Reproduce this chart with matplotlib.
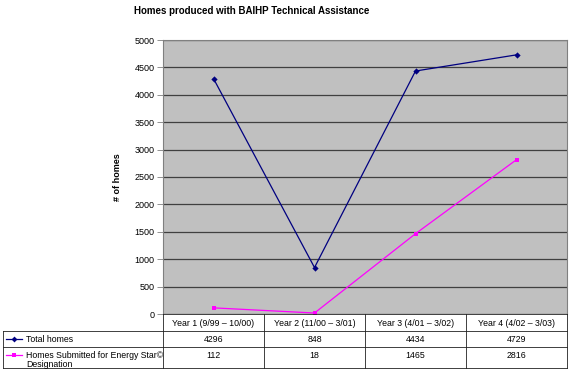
import matplotlib.pyplot as plt
import numpy as np

plt.rcParams['font.family'] = ['Liberation Sans', 'DejaVu Sans']

periods = ['Year 1 (9/99 – 10/00)', 'Year 2 (11/00 – 3/01)',
           'Year 3 (4/01 – 3/02)', 'Year 4 (4/02 – 3/03)']
total_homes = [4296, 848, 4434, 4729]
energy_star = [112, 18, 1465, 2816]
series_names = ['Total homes', 'Homes Submitted for Energy Star©\nDesignation']
series_colors = ['#000080', '#FF00FF']
series_markers = ['D', 's']

W, H = 569, 372
fig = plt.figure(figsize=(W / 100, H / 100), dpi=100)

# plot area in pixel coords
x0, x1, ytop, ybot = 163, 567, 40, 314
ax = fig.add_axes([x0 / W, 1 - ybot / H, (x1 - x0) / W, (ybot - ytop) / H])
ax.set_facecolor('#C0C0C0')
x = np.arange(len(periods))
for vals, c, m in zip([total_homes, energy_star], series_colors, series_markers):
    ax.plot(x, vals, color=c, marker=m, markersize=3.2 if m == 'D' else 3.5,
            linewidth=0.9, markeredgewidth=0)
ax.set_xlim(-0.5, len(periods) - 0.5)
ax.set_ylim(0, 5000)
ax.set_yticks(np.arange(0, 5001, 500))
ax.yaxis.grid(True, color='#404040', linewidth=0.9)
ax.set_axisbelow(True)
ax.set_xticks([])
ax.tick_params(axis='y', labelsize=6.5, length=4, width=0.6, color='#808080', pad=2,
               labelcolor='#000000')
ax.spines['bottom'].set_visible(False)
for s in ['left', 'top', 'right']:
    ax.spines[s].set_color('#808080')
    ax.spines[s].set_linewidth(0.8)
ax.set_ylabel('# of homes', fontsize=6.5, fontweight='bold', labelpad=9)

fig.text(252 / W, 1 - 11 / H, 'Homes produced with BAIHP Technical Assistance',
         ha='center', va='center', fontsize=7, fontweight='bold')

# data table below the plot
tx0, tx1 = 3, 567
rows = [314, 331, 347, 368]
tab = fig.add_axes([0, 0, 1, 1], facecolor='none')
tab.set_xlim(0, W)
tab.set_ylim(H, 0)
tab.axis('off')
col_w = (x1 - x0) / len(periods)
cols = [x0 + i * col_w for i in range(len(periods) + 1)]
lc = '#202020'
lw = 0.6
# header row (no left part)
tab.plot([x0, tx1], [rows[0], rows[0]], color=lc, lw=lw)
for r in rows[1:]:
    tab.plot([tx0, tx1], [r, r], color=lc, lw=lw)
tab.plot([tx0, tx0], [rows[1], rows[3]], color=lc, lw=lw)
for c in cols:
    tab.plot([c, c], [rows[0], rows[3]], color=lc, lw=lw)
for i, p in enumerate(periods):
    tab.text(cols[i] + col_w / 2, (rows[0] + rows[1]) / 2 + 0.5, p,
             ha='center', va='center', fontsize=6.3)
for j, (vals, name, c, m) in enumerate(zip([total_homes, energy_star], series_names,
                                           series_colors, series_markers)):
    ytext = rows[j + 1] + 8
    tab.plot([6, 22], [ytext, ytext], color=c, lw=0.9)
    tab.plot([14], [ytext], color=c, marker=m, markersize=3.0, markeredgewidth=0)
    tab.text(26, ytext - 4.5, name, ha='left', va='top',
             fontsize=6.3, linespacing=1.05)
    for i, v in enumerate(vals):
        tab.text(cols[i] + col_w / 2, ytext, str(v), ha='center', va='center',
                 fontsize=6.3)

fig.savefig('out.png', dpi=100)
